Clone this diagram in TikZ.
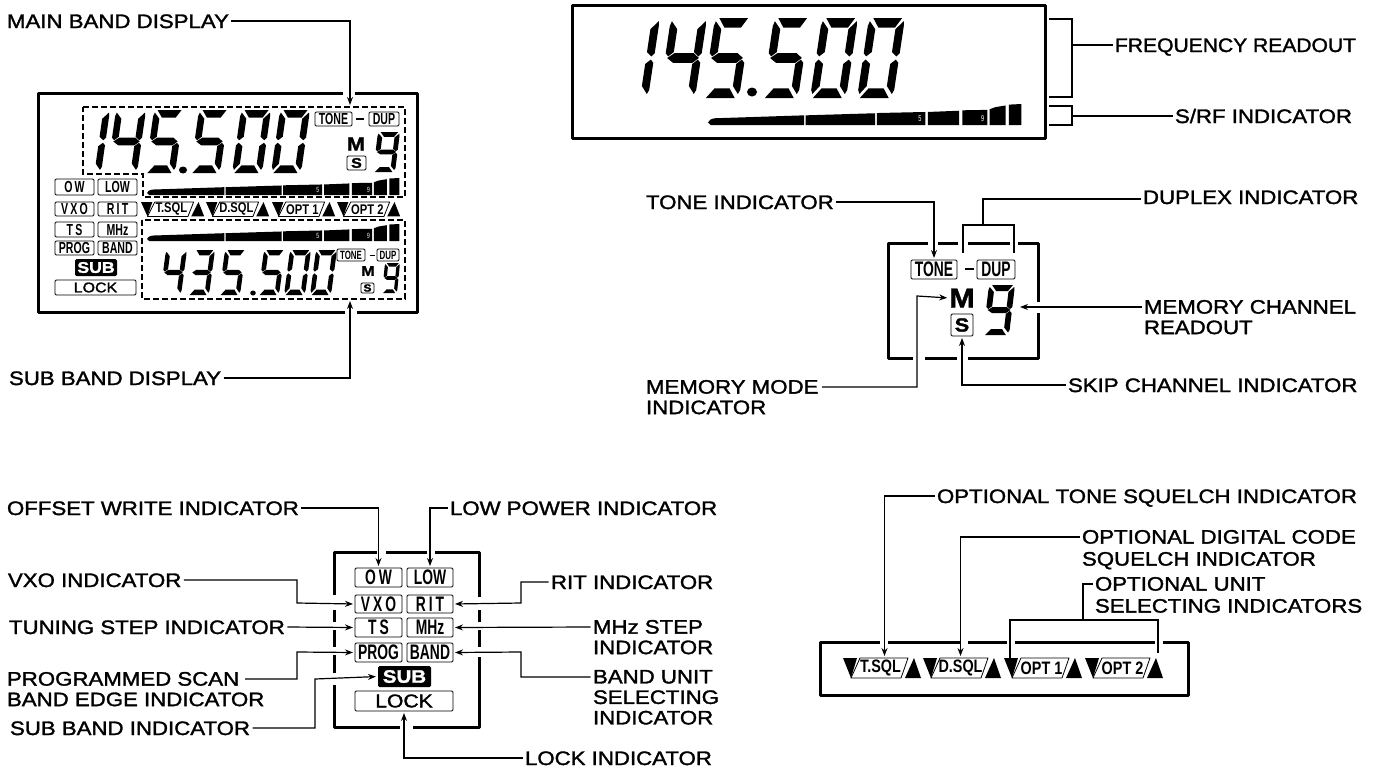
\documentclass[tikz,border=0pt]{standalone}
\usepackage{fontspec}
\usetikzlibrary{arrows.meta}
\setmainfont{Liberation Sans}[FakeStretch=1.14,FakeBold=1.6]
\newfontfamily\condf{Liberation Sans}[FakeStretch=0.66]
\newfontfamily\condsp{Liberation Sans}[FakeStretch=0.66,LetterSpace=14]
\newfontfamily\paraf{Liberation Sans}[FakeStretch=0.8]
\tikzset{
 lbl/.style={anchor=west,inner sep=0pt,outer xsep=2.5pt,outer ysep=0pt,text height=14pt,text depth=0pt,font=\fontsize{19.5}{22}\selectfont},
 lblm/.style={anchor=north west,inner sep=0pt,outer xsep=2.5pt,outer ysep=0pt,align=left,font=\fontsize{19.5}{20.5}\selectfont},
 conn/.style={line width=1.2pt,line join=miter},
 arr/.style={conn,-{Stealth[length=8pt,width=6pt]},shorten >=2pt},
 panelframe/.style={line width=3pt,line cap=butt,line join=round},
 dashline/.style={line width=1.2pt,dash pattern=on 6pt off 3pt},
 ibox/.style={draw,line width=.9pt,rounded corners=1.2pt,inner sep=0pt,outer sep=0pt},
 blackbox/.style={fill=black,text=white,rounded corners=1.5pt,inner sep=0pt,outer sep=0pt},
 plainnode/.style={inner sep=0pt,outer sep=0pt}
}
\newcommand\sega{\fill (.12,2)--(.92,2)--(.76,1.76)--(.30,1.76)--cycle;}
\newcommand\segd{\fill (.08,0)--(.88,0)--(.70,.24)--(.28,.24)--cycle;}
\newcommand\segg{\fill (.06,1)--(.24,1.12)--(.78,1.12)--(.94,1)--(.78,.88)--(.24,.88)--cycle;}
\newcommand\segb{\fill (.98,1.92)--(1,1.8)--(1,1.12)--(.92,1.04)--(.78,1.15)--(.78,1.72)--cycle;}
\newcommand\segc{\fill (.95,.1)--(1,.2)--(1,.88)--(.92,.96)--(.78,.85)--(.78,.3)--cycle;}
\newcommand\segf{\fill (.04,1.92)--(0,1.8)--(0,1.12)--(.08,1.04)--(.22,1.15)--(.22,1.72)--cycle;}
\newcommand\sege{\fill (.05,.1)--(0,.2)--(0,.88)--(.08,.96)--(.22,.85)--(.22,.3)--cycle;}
% x, baseline y, width, half height, slant per half height, segments
\newcommand\dgt[6]{\begin{scope}[shift={(#1,#2)},x={(#3pt,0pt)},y={(#5pt,#4pt)}]
 \foreach \s in {#6}{\csname seg\s\endcsname}\end{scope}}
% S meter: name, x, bottom y, length, height, label size
\newcommand\sbar[6]{\begin{scope}[shift={(#2,#3)},x={(#4pt,0pt)},y={(0pt,#5pt)}]
 \fill (.008,0)--(0,.12)--(.008,.26)--(.02,.32)--(.306,.46)--(.306,0)--cycle;
 \fill (.311,0)--(.311,.46)--(.532,.56)--(.532,0)--cycle;
 \fill (.538,0)--(.538,.57)--(.692,.62)--(.692,0)--cycle;
 \fill (.70,0)--(.70,.62)--(.80,.68)--(.80,0)--cycle;
 \fill (.81,0)--(.81,.7)--(.89,.72)--(.89,0)--cycle;
 \fill (.897,0)--(.897,.75)--(.915,.85)--(.948,.93)--(.948,0)--cycle;
 \fill (.958,0)--(.958,.97)--(.998,1)--(.998,0)--cycle;
 \node[plainnode,text=white,font=\fontsize{#6}{#6}\selectfont\condf] (#1five) at (.675,.3) {5};
 \node[plainnode,text=white,font=\fontsize{#6}{#6}\selectfont\condf] (#1nine) at (.875,.3) {9};
 \end{scope}}
% indicator box: name,x0,y0,x1,y1,font,text
\newcommand\ib[7]{\node[ibox,font=#6,minimum width={(#4-#2)*1pt},minimum height={(#5-#3)*1pt}] (#1) at ({(#2+#4)/2},{(#3+#5)/2}) {#7};}
% option group: name,x,y,xscale,yscale,size,text
\newcommand\optg[7]{\begin{scope}[shift={(#2,#3)},xscale=#4,yscale=#5]
 \fill (0,0)--(14,0)--(8,20)--cycle;
 \fill (62,20)--(71,0)--(78,20)--cycle;
 \draw[line width=.8pt,line join=round] (17,0)--(65,0)--(58,20)--(8,20)--cycle;
 \node[plainnode,font=\fontsize{#6}{#6}\selectfont\paraf\bfseries,minimum height={20*#5*1pt}] (#1) at (37.5,10) {#7};
 \end{scope}}
\begin{document}
\begin{tikzpicture}[x=1pt,y=-1pt]
\useasboundingbox (0,0) rectangle (1379,772);
% ---------- left display
\draw[panelframe] (343,93)--(38,93)--(38,312)--(345,312) (357,312)--(417,312)--(417,93)--(355,93);
\draw[dashline] (83,107)--(405,107)--(405,197)--(143,197)--(143,174)--(83,174)--cycle;
\draw[dashline] (142,220) rectangle (405,299);
\dgt{71}{173}{30}{31.5}{4.5}{b,c}
\dgt{107}{173}{30}{31.5}{4.5}{b,c,f,g}
\dgt{145}{173}{30}{31.5}{4.5}{a,c,d,f,g}
\dgt{190}{173}{30}{31.5}{4.5}{a,c,d,f,g}
\dgt{232}{173}{30}{31.5}{4.5}{a,b,c,d,e,f}
\dgt{271}{173}{30}{31.5}{4.5}{a,b,c,d,e,f}
\fill (183,170) ellipse (4pt and 3.5pt);
\dgt{373}{172}{22}{20}{2.5}{a,b,c,d,f,g}
\ib{mTone}{315}{112}{352}{126}{\fontsize{16}{16}\selectfont\condf\bfseries}{TONE}
\draw[line width=1.1pt] (356,119)--(364,119);
\ib{mDup}{369}{112}{399}{126}{\fontsize{16}{16}\selectfont\condf\bfseries}{DUP}
\node[plainnode,font=\fontsize{19}{19}\selectfont\bfseries] (mM) at (356,144) {M};
\ib{mS}{347}{156}{366}{170}{\fontsize{14}{14}\selectfont\bfseries}{S}
\sbar{mbar}{147}{195}{253}{17}{7.5}
\sbar{sbar}{147}{241}{253}{17}{7.5}
\dgt{160}{295}{21}{22.5}{3}{b,c,f,g}
\dgt{188}{295}{21}{22.5}{3}{a,b,c,d,g}
\dgt{219}{295}{21}{22.5}{3}{a,c,d,f,g}
\dgt{258}{295}{21}{22.5}{3}{a,c,d,f,g}
\dgt{284}{295}{21}{22.5}{3}{a,b,c,d,e,f}
\dgt{310}{295}{21}{22.5}{3}{a,b,c,d,e,f}
\fill (253,293) ellipse (2.8pt and 2.5pt);
\dgt{382}{293}{15}{15}{1.5}{a,b,c,d,f,g}
\ib{sTone}{337}{249}{365}{261}{\fontsize{12}{12}\selectfont\condf\bfseries}{TONE}
\draw[line width=.9pt] (370,255)--(375,255);
\ib{sDup}{377}{249}{399}{261}{\fontsize{12}{12}\selectfont\condf\bfseries}{DUP}
\node[plainnode,font=\fontsize{14}{14}\selectfont\bfseries] (sM) at (368,271) {M};
\ib{sS}{361}{283}{374}{293}{\fontsize{10.5}{10.5}\selectfont\bfseries}{S}
\ib{aOW}{55}{179}{94}{195}{\fontsize{16}{16}\selectfont\condsp\bfseries}{OW}
\ib{aLOW}{98}{179}{137}{195}{\fontsize{16}{16}\selectfont\condf\bfseries}{LOW}
\ib{aVXO}{55}{202}{94}{216}{\fontsize{16}{16}\selectfont\condsp\bfseries}{VXO}
\ib{aRIT}{98}{202}{137}{216}{\fontsize{16}{16}\selectfont\condsp\bfseries}{RIT}
\ib{aTS}{55}{222}{94}{237}{\fontsize{16}{16}\selectfont\condsp\bfseries}{TS}
\ib{aMHz}{98}{222}{137}{237}{\fontsize{16}{16}\selectfont\condf\bfseries}{MHz}
\ib{aPROG}{55}{241}{94}{255}{\fontsize{16}{16}\selectfont\condf\bfseries}{PROG}
\ib{aBAND}{98}{241}{137}{255}{\fontsize{16}{16}\selectfont\condf\bfseries}{BAND}
\node[blackbox,minimum width=42pt,minimum height=17pt,font=\fontsize{15.5}{15.5}\selectfont\bfseries] (aSUB) at (96,267.5) {SUB};
\ib{aLOCK}{55}{280}{136}{295}{\fontsize{14}{14}\selectfont}{LOCK}
\optg{aT}{141}{202}{.81}{.72}{14}{T.SQL}
\optg{aD}{206}{202}{.81}{.72}{14}{D.SQL}
\optg{aO}{272}{202}{.81}{.72}{14}{OPT 1}
\optg{aP}{337}{202}{.81}{.72}{14}{OPT 2}
\node[lbl] (lMain) at (4.5,21) {MAIN BAND DISPLAY};
\node[lbl] (lSub) at (6.5,378) {SUB BAND DISPLAY};
\coordinate (mainT) at (350,107);
\coordinate (subB) at (350,299);
\draw[arr] (lMain.east) -| (mainT);
\draw[arr] (lSub.east) -| (subB);
% ---------- top display
\draw[panelframe] (572,5) rectangle (1045,138);
\dgt{612}{98}{36}{40}{6}{b,c}
\dgt{659}{98}{36}{40}{6}{b,c,f,g}
\dgt{703}{98}{36}{40}{6}{a,c,d,f,g}
\dgt{762}{98}{36}{40}{6}{a,c,d,f,g}
\dgt{810}{98}{36}{40}{6}{a,b,c,d,e,f}
\dgt{857}{98}{36}{40}{6}{a,b,c,d,e,f}
\fill (752,92) ellipse (5pt and 4.5pt);
\sbar{tbar}{708}{125}{314}{21}{8.5}
\draw[conn] (1049,19)--(1072,19)--(1072,97)--(1049,97);
\draw[conn] (1049,106)--(1072,106)--(1072,125)--(1049,125);
\coordinate (brF) at (1072,45);
\coordinate (brS) at (1072,116);
\node[lbl,font=\fontsize{19.5}{22}\selectfont\addfontfeature{FakeStretch=1.08}] (lFreq) at (1112.5,45) {FREQUENCY READOUT};
\node[lbl] (lSrf) at (1172.5,116) {S/RF INDICATOR};
\draw[conn] (lFreq.west) -- (brF);
\draw[conn] (lSrf.west) -- (brS);
% ---------- tone panel
\draw[panelframe] (928,243)--(888,243)--(888,358)--(913,358) (925,358)--(957,358) (968,358)--(1038,358)--(1038,313) (1038,302)--(1038,243)--(1018,243) (1010,243)--(968,243) (958,243)--(938,243);
\ib{pTone}{911}{260}{957}{279}{\fontsize{21}{21}\selectfont\condf\bfseries}{TONE}
\draw[line width=1.3pt] (965,269)--(974,269);
\ib{pDup}{977}{260}{1015}{279}{\fontsize{21}{21}\selectfont\condf\bfseries}{DUP}
\node[plainnode,font=\fontsize{27}{27}\selectfont\bfseries] (pM) at (962,298) {M};
\ib{pS}{951}{314}{973}{336}{\fontsize{19}{19}\selectfont\bfseries}{S}
\dgt{983}{335}{26}{25}{3}{a,b,c,d,f,g}
\node[lbl] (lTone) at (643.5,202) {TONE INDICATOR};
\node[lbl] (lDup) at (1140.5,197) {DUPLEX INDICATOR};
\node[lblm] (lMemM) at (643.5,380) {MEMORY MODE\\INDICATOR};
\node[lblm] (lMemR) at (1141.5,300) {MEMORY CHANNEL\\READOUT};
\node[lbl] (lSkip) at (1065.5,385) {SKIP CHANNEL INDICATOR};
\coordinate (nineE) at (1018,307);
\coordinate (kMem) at (917,296);
\coordinate (kDupL) at (963,225);
\coordinate (kDupR) at (1014,225);
\coordinate (kDupS) at (983,225);
\draw[arr] (lTone.east) -| (pTone.north);
\draw[conn] ([yshift=-2pt]lDup.west) -| (kDupS);
\draw[conn] (963,253) -- (kDupL) -- (kDupR) -- (1014,253);
\draw[arr] ([xshift=1pt,yshift=-7pt]lMemM.north east) -| (kMem) -- (pM.west);
\draw[arr] ([yshift=-7pt]lMemR.north west) -- (nineE);
\draw[arr] (lSkip.west) -| (pS.south);
% ---------- bottom-left panel
\draw[panelframe] (377,552)--(334,552)--(334,595) (334,610)--(334,622) (334,630)--(334,647) (334,655)--(334,673) (334,685)--(334,727)--(400,727) (413,727)--(479,727)--(479,657) (479,647)--(479,630) (479,622)--(479,610) (479,597)--(479,552)--(435,552) (427,552)--(386,552);
\ib{OW}{355}{568}{402}{587}{\fontsize{21}{21}\selectfont\condsp\bfseries}{OW}
\ib{LOW}{407}{568}{453}{587}{\fontsize{21}{21}\selectfont\condf\bfseries}{LOW}
\ib{VXO}{355}{595}{402}{613}{\fontsize{21}{21}\selectfont\condsp\bfseries}{VXO}
\ib{RIT}{407}{595}{453}{613}{\fontsize{21}{21}\selectfont\condsp\bfseries}{RIT}
\ib{TS}{355}{618}{402}{637}{\fontsize{21}{21}\selectfont\condsp\bfseries}{TS}
\ib{MHz}{407}{618}{453}{637}{\fontsize{21}{21}\selectfont\condf\bfseries}{MHz}
\ib{PROG}{355}{643}{402}{662}{\fontsize{21}{21}\selectfont\condf\bfseries}{PROG}
\ib{BAND}{407}{643}{453}{662}{\fontsize{21}{21}\selectfont\condf\bfseries}{BAND}
\node[blackbox,minimum width=53pt,minimum height=21pt,font=\fontsize{18}{18}\selectfont\bfseries] (SUB) at (404.5,676.5) {SUB};
\ib{LOCK}{355}{691}{453}{711}{\fontsize{18.5}{18.5}\selectfont}{LOCK}
\node[lbl] (lOW) at (4.5,508) {OFFSET WRITE INDICATOR};
\node[lbl] (lVXO) at (5.5,580) {VXO INDICATOR};
\node[lbl] (lTS) at (6.5,627) {TUNING STEP INDICATOR};
\node[lblm] (lPROG) at (4.5,672) {PROGRAMMED SCAN\\BAND EDGE INDICATOR};
\node[lbl] (lSUB) at (7.5,728) {SUB BAND INDICATOR};
\node[lbl] (lLOW) at (447.5,508) {LOW POWER INDICATOR};
\node[lbl] (lRIT) at (548.5,582) {RIT INDICATOR};
\node[lblm] (lMHz) at (590.5,620) {MHz STEP\\INDICATOR};
\node[lblm] (lBAND) at (590.5,670) {BAND UNIT\\SELECTING\\INDICATOR};
\node[lbl] (lLOCK) at (522.5,758) {LOCK INDICATOR};
\coordinate (kVXO) at (297,603);
\coordinate (kPROG) at (297,652);
\coordinate (kSUB) at (315,679);
\coordinate (kRIT) at (521,603);
\coordinate (kBAND) at (521,652);
\coordinate (pLine) at (245,679);
\draw[arr] (lOW.east) -| (OW.north);
\draw[arr] (lLOW.west) -| (LOW.north);
\draw[arr] (lVXO.east) -| (kVXO) -- (VXO.west);
\draw[arr] (lTS.east) -- (TS.west);
\draw[arr] (pLine) -| (kPROG) -- (PROG.west);
\draw[arr] (lSUB.east) -| (kSUB) -- (SUB.west);
\draw[arr] (lRIT.west) -| (kRIT) -- (RIT.east);
\draw[arr] ([yshift=-7pt]lMHz.north west) -- (MHz.east);
\draw[arr] ([yshift=-7pt]lBAND.north west) -| (kBAND) -- (BAND.east);
\draw[arr] (lLOCK.west) -| (LOCK.south);
% ---------- bottom-right panel
\draw[panelframe] (880,642)--(820,642)--(820,695)--(1188,695)--(1188,642)--(1163,642) (1155,642)--(1015,642) (1007,642)--(968,642) (960,642)--(888,642);
\optg{T}{843}{658}{1}{1}{18}{T.SQL}
\optg{D}{923}{658}{1}{1}{18}{D.SQL}
\optg{Oa}{1004}{658}{1}{1}{18}{OPT 1}
\optg{Ob}{1085}{658}{1}{1}{18}{OPT 2}
\node[lbl] (lT) at (934.5,496) {OPTIONAL TONE SQUELCH INDICATOR};
\node[lblm,font=\fontsize{19.5}{22}\selectfont] (lD) at (1079.5,530) {OPTIONAL DIGITAL CODE\\SQUELCH INDICATOR};
\node[lblm,font=\fontsize{19.5}{22}\selectfont] (lU) at (1092.5,577) {OPTIONAL UNIT\\SELECTING INDICATORS};
\coordinate (kOL) at (1010,620);
\coordinate (kOR) at (1158,620);
\coordinate (kOM) at (1083,620);
\draw[arr] (lT.west) -| ([xshift=4pt]T.north);
\draw[arr] ([yshift=-7pt]lD.north west) -| (D.north);
\draw[conn] ([yshift=-7pt]lU.north west) -| (kOM);
\draw[conn] (kOL |- Oa.north) -- (kOL) -- (kOR) -- (1158,653);
\end{tikzpicture}
\end{document}
